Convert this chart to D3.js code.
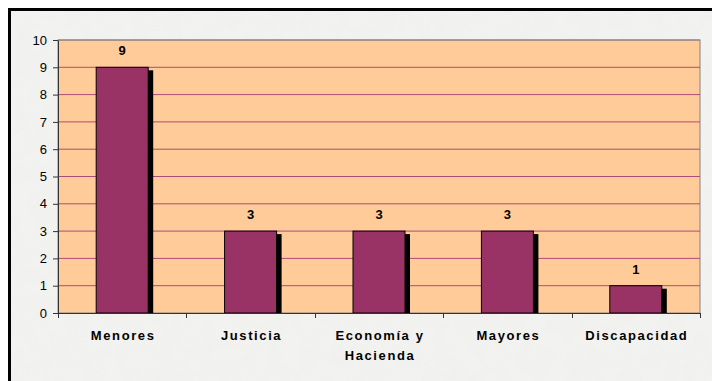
<!DOCTYPE html>
<html><head><meta charset="utf-8">
<script src="https://cdn.jsdelivr.net/npm/d3@7"></script>
<style>body{margin:0;background:#fff;}svg{display:block;}</style>
</head><body>
<script>
const categories = ["Menores", "Justicia", "Economía y|Hacienda", "Mayores", "Discapacidad"];
const values = [9, 3, 3, 3, 1];
const yTicks = [0,1,2,3,4,5,6,7,8,9,10];

const W = 712, H = 381;
const svg = d3.select("body").append("svg").attr("width", W).attr("height", H);

const defs = svg.append("defs");
const f = defs.append("filter").attr("id","tex").attr("x",0).attr("y",0).attr("width","100%").attr("height","100%");
f.append("feTurbulence").attr("type","fractalNoise").attr("baseFrequency","0.06").attr("numOctaves",3).attr("seed",4);
f.append("feColorMatrix").attr("type","matrix").attr("values","0 0 0 0 0.86  0 0 0 0 0.86  0 0 0 0 0.85  0 0 0 -1.2 0.8");
svg.append("rect").attr("width",W).attr("height",H).attr("fill","#fff");
svg.append("rect").attr("x",9).attr("y",9).attr("width",W).attr("height",H).attr("fill","#f2f2f0");
svg.append("rect").attr("x",9).attr("y",9).attr("width",W).attr("height",H).attr("filter","url(#tex)").attr("opacity",0.9);
svg.append("rect").attr("x",9.5).attr("y",9.5).attr("width",W+10).attr("height",H+10)
  .attr("fill","none").attr("stroke","#000").attr("stroke-width",3);

const pL = 58, pR = 700, pT = 40, pB = 313;
const x = d3.scaleBand().domain(categories).range([pL, pR]).paddingInner(0.595).paddingOuter(0.2975);
const y = d3.scaleLinear().domain([0, 10]).range([pB, pT]);

svg.append("rect").attr("x",pL).attr("y",pT).attr("width",pR-pL).attr("height",pB-pT)
  .attr("fill","#FFCC99").attr("stroke","#8a8080").attr("stroke-width",1);

svg.append("g").selectAll("line").data(yTicks.filter(d=>d>0 && d<10)).join("line")
  .attr("x1",pL).attr("x2",pR).attr("y1",d=>y(d)).attr("y2",d=>y(d))
  .attr("stroke","#b04a78").attr("stroke-width",1);
svg.append("line").attr("x1",pL).attr("x2",pR).attr("y1",y(10)).attr("y2",y(10))
  .attr("stroke","#8a8080");

svg.append("g").selectAll("rect").data(values).join("rect")
  .attr("x",(d,i)=>x(categories[i])+5).attr("y",d=>y(d)+3)
  .attr("width",x.bandwidth()).attr("height",d=>pB-y(d)-3).attr("fill","#000");
svg.append("g").selectAll("rect").data(values).join("rect")
  .attr("x",(d,i)=>x(categories[i])).attr("y",d=>y(d))
  .attr("width",x.bandwidth()).attr("height",d=>pB-y(d))
  .attr("fill","#993366").attr("stroke","#000").attr("stroke-width",1);

svg.append("g").selectAll("text").data(values).join("text")
  .attr("x",(d,i)=>x(categories[i])+x.bandwidth()/2).attr("y",d=>y(d)-12)
  .attr("text-anchor","middle").attr("font-family","Liberation Sans, Arial, sans-serif")
  .attr("font-weight","bold").attr("font-size",13).attr("fill","#000").text(d=>d);

const yAxis = d3.axisLeft(y).tickValues(yTicks).tickSize(5).tickSizeOuter(0).tickPadding(6);
const gy = svg.append("g").attr("transform",`translate(${pL},0)`).call(yAxis);
gy.select(".domain").attr("stroke","#333");
gy.selectAll(".tick line").attr("stroke","#333");
gy.selectAll("text").attr("font-family","Liberation Sans, Arial, sans-serif").attr("font-size",13).attr("fill","#000");

const xTickPos = d3.range(0,6).map(i=>pL + i*(pR-pL)/5);
svg.append("line").attr("x1",pL).attr("x2",pR).attr("y1",pB+0.5).attr("y2",pB+0.5).attr("stroke","#333");
svg.append("g").selectAll("line").data(xTickPos).join("line")
  .attr("x1",d=>Math.round(d)+0.5).attr("x2",d=>Math.round(d)+0.5).attr("y1",pB).attr("y2",pB+5).attr("stroke","#333");

const xl = svg.append("g").selectAll("text").data(categories).join("text")
  .attr("x",d=>x(d)+x.bandwidth()/2 + 1).attr("y",340)
  .attr("text-anchor","middle").attr("font-family","Liberation Sans, Arial, sans-serif")
  .attr("font-weight","bold").attr("font-size",13).attr("letter-spacing","1.6px").attr("fill","#000");
xl.each(function(d){
  const parts = d.split("|");
  const t = d3.select(this);
  parts.forEach((p,i)=>t.append("tspan").attr("x",t.attr("x")).attr("dy",i===0?0:20).text(p));
});
</script>
</body></html>
